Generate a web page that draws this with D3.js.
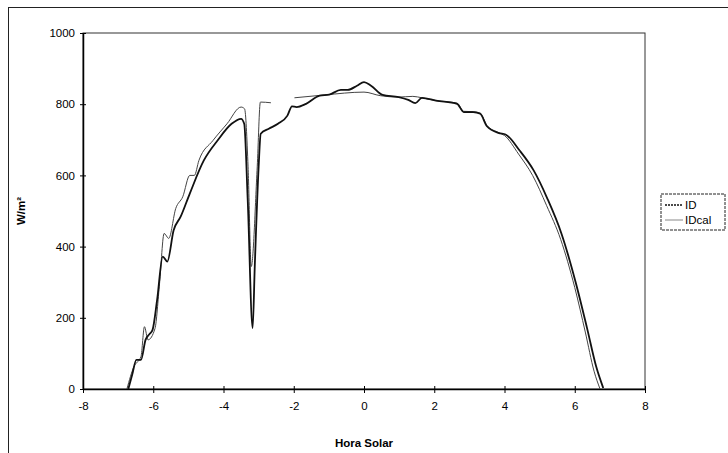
<!DOCTYPE html>
<html>
<head>
<meta charset="utf-8">
<script src="https://cdn.jsdelivr.net/npm/d3@7"></script>
<style>
  body { margin: 0; background: #fff; }
  text { font-family: Arial, "Liberation Sans", sans-serif; }
</style>
</head>
<body>
<script>
// measured direct irradiance (ID)
var idHora = [-6.71, -6.6, -6.48, -6.35, -6.22, -6.1, -6.02, -5.89, -5.73, -5.6, -5.42, -5.22, -4.96, -4.56, -4.17, -3.77, -3.5, -3.41, -3.31, -3.17, -3.11, -3.0, -2.94, -2.71, -2.45, -2.18, -2.05, -1.92, -1.65, -1.26, -0.99, -0.66, -0.46, -0.2, 0, 0.2, 0.53, 0.99, 1.26, 1.46, 1.65, 2.05, 2.65, 2.84, 3.11, 3.31, 3.5, 3.84, 4.03, 4.43, 4.83, 5.22, 5.62, 6.02, 6.35, 6.61, 6.81];
var idVal  = [0, 40, 82, 82, 138, 155, 166, 250, 372, 358, 446, 484, 549, 642, 698, 745, 759, 745, 530, 171, 344, 624, 717, 731, 745, 768, 794, 792, 801, 824, 827, 840, 840, 852, 862, 852, 826, 820, 812, 803, 818, 810, 801, 778, 778, 773, 738, 719, 715, 670, 614, 535, 437, 302, 171, 63, 3];

// calculated direct irradiance (IDcal), null = no data
var calHora = [-6.75, -6.55, -6.35, -6.25, -6.15, -5.95, -5.82, -5.69, -5.56, -5.36, -5.16, -4.96, -4.83, -4.7, -4.3, -3.9, -3.5, -3.4, -3.3, -3.21, -3.04, -2.95, -2.65, -2.3, -1.98, -1.12, 0, 0.46, 0.99, 1.39, 1.65, 2.05, 2.65, 2.84, 3.11, 3.31, 3.5, 3.84, 4.0, 4.4, 4.8, 5.2, 5.6, 6.0, 6.3, 6.55, 6.72];
var calVal  = [0, 63, 91, 175, 138, 170, 297, 437, 423, 507, 540, 600, 600, 642, 698, 745, 792, 787, 624, 344, 624, 806, 804, null, 818, 826, 834, 824, 820, 822, 818, 810, 803, 780, 779, 775, 740, 720, 712, 660, 600, 515, 420, 285, 160, 50, 0];

var xTicks = [-8, -6, -4, -2, 0, 2, 4, 6, 8];
var yTicks = [0, 200, 400, 600, 800, 1000];

var w = 728, h = 453;
var plot = {left: 83, right: 645, top: 33, bottom: 389};

var svg = d3.select('body')
  .append('svg')
  .attr('width', w)
  .attr('height', h);

// outer chart frame
svg.append('rect')
  .attr('x', 8.5).attr('y', 7.5)
  .attr('width', 740).attr('height', 480)
  .attr('fill', 'none')
  .attr('stroke', '#222')
  .attr('stroke-width', 1);

var x = d3.scaleLinear().domain([-8, 8]).range([plot.left, plot.right]);
var y = d3.scaleLinear().domain([0, 1000]).range([plot.bottom, plot.top]);

// plain hyphen labels, no thousands separator
var fmt = function(d) { return String(d); };

// plot area border
svg.append('rect')
  .attr('x', plot.left).attr('y', plot.top)
  .attr('width', plot.right - plot.left)
  .attr('height', plot.bottom - plot.top)
  .attr('fill', 'none')
  .attr('stroke', '#333')
  .attr('stroke-width', 1);

// axes, ticks crossing the line
var xAxis = svg.append('g')
  .attr('transform', 'translate(0,' + plot.bottom + ')')
  .call(d3.axisBottom(x).tickValues(xTicks).tickFormat(fmt).tickSize(4).tickSizeOuter(0).tickPadding(9));
xAxis.select('.domain').attr('stroke', '#000').attr('stroke-width', 1.5);
xAxis.selectAll('.tick line').attr('y1', -3).attr('stroke', '#000');
xAxis.selectAll('.tick text')
  .attr('font-size', 11.5).attr('fill', '#000')
  .attr('font-family', 'Arial, "Liberation Sans", sans-serif');

var yAxis = svg.append('g')
  .attr('transform', 'translate(' + plot.left + ',0)')
  .call(d3.axisLeft(y).tickValues(yTicks).tickFormat(fmt).tickSize(3).tickSizeOuter(0).tickPadding(5));
yAxis.select('.domain').attr('stroke', '#000').attr('stroke-width', 1.5);
yAxis.selectAll('.tick line').attr('x1', -3).attr('x2', 3).attr('stroke', '#000');
yAxis.selectAll('.tick text')
  .attr('font-size', 11.5).attr('fill', '#000')
  .attr('font-family', 'Arial, "Liberation Sans", sans-serif');

// axis titles
svg.append('text')
  .attr('x', (plot.left + plot.right) / 2)
  .attr('y', 447)
  .attr('text-anchor', 'middle')
  .attr('font-size', 11.5)
  .attr('font-weight', 'bold')
  .text('Hora Solar');

svg.append('text')
  .attr('transform', 'translate(25,' + ((plot.top + plot.bottom) / 2) + ') rotate(-90)')
  .attr('text-anchor', 'middle')
  .attr('font-size', 11.5)
  .attr('font-weight', 'bold')
  .text('W/m²');

// series
var line = d3.line()
  .defined(function(d) { return d[1] !== null; })
  .curve(d3.curveMonotoneX)
  .x(function(d) { return x(d[0]); })
  .y(function(d) { return y(d[1]); });

var calData = calHora.map(function(v, i) { return [v, calVal[i]]; });
var idData = idHora.map(function(v, i) { return [v, idVal[i]]; });

svg.append('path')
  .attr('d', line(calData))
  .attr('fill', 'none')
  .attr('stroke', '#444')
  .attr('stroke-width', 1);

svg.append('path')
  .attr('d', line(idData))
  .attr('fill', 'none')
  .attr('stroke', '#111')
  .attr('stroke-width', 1.8);

// legend
var lg = svg.append('g').attr('transform', 'translate(661,194)');
lg.append('rect')
  .attr('width', 64).attr('height', 36)
  .attr('fill', '#fff')
  .attr('stroke', '#222')
  .attr('stroke-dasharray', '3,1');

var legendItems = [
  {name: 'ID', color: '#111', width: 1.5, dash: '2,1'},
  {name: 'IDcal', color: '#888', width: 1, dash: null}
];
legendItems.forEach(function(d, i) {
  var yy = 11 + i * 15;
  lg.append('line')
    .attr('x1', 4).attr('x2', 22)
    .attr('y1', yy).attr('y2', yy)
    .attr('stroke', d.color)
    .attr('stroke-width', d.width)
    .attr('stroke-dasharray', d.dash);
  lg.append('text')
    .attr('x', 24).attr('y', yy + 4)
    .attr('font-size', 11.5)
    .text(d.name);
});
</script>
</body>
</html>
